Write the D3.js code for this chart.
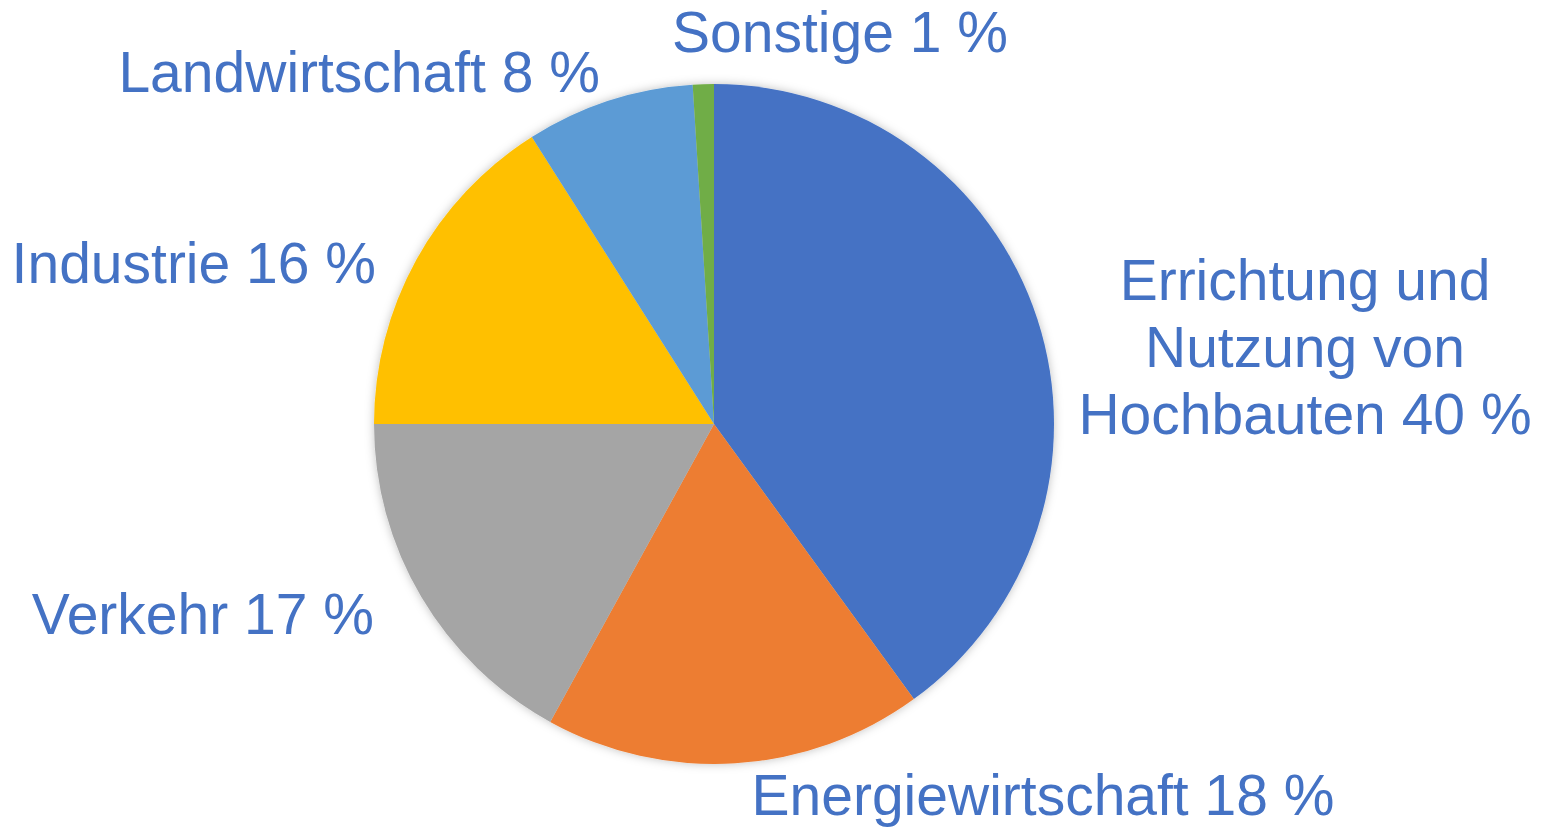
<!DOCTYPE html>
<html><head><meta charset="utf-8">
<script src="https://d3js.org/d3.v7.min.js"></script>
<style>html,body{margin:0;padding:0;background:#fff;overflow:hidden}</style>
</head><body>
<svg id="chart" width="1545" height="830"></svg>
<script>
const categories = ["Errichtung und Nutzung von Hochbauten", "Energiewirtschaft", "Verkehr", "Industrie", "Landwirtschaft", "Sonstige"];
const labelLines = [["Errichtung und", "Nutzung von", "Hochbauten 40 %"], ["Energiewirtschaft 18 %"], ["Verkehr 17 %"], ["Industrie 16 %"], ["Landwirtschaft 8 %"], ["Sonstige 1 %"]];
const values = [40, 18, 17, 16, 8, 1];
const colors = ["#4472C4", "#ED7D31", "#A5A5A5", "#FFC000", "#5B9BD5", "#70AD47"];

const svg = d3.select("#chart");
const cx = 714, cy = 424, R = 340;

const defs = svg.append("defs");
const f = defs.append("filter").attr("id", "sh").attr("x", "-10%").attr("y", "-10%").attr("width", "120%").attr("height", "120%");
f.append("feDropShadow").attr("dx", 0).attr("dy", 0).attr("stdDeviation", 5).attr("flood-color", "#000").attr("flood-opacity", 0.25);

const data = categories.map((c, i) => ({ cat: c, value: values[i], lines: labelLines[i], color: colors[i] }));
const pie = d3.pie().sort(null).value(d => d.value).startAngle(0).endAngle(2 * Math.PI);
const arc = d3.arc().innerRadius(0).outerRadius(R);
const arcs = pie(data);

const g = svg.append("g").attr("transform", `translate(${cx},${cy})`);
g.append("g").attr("filter", "url(#sh)")
  .selectAll("path").data(arcs).join("path")
  .attr("d", arc).attr("fill", d => d.data.color);

// label placement (layout, not data)
const layout = {
  "Errichtung und Nutzung von Hochbauten": { x: 1305, y: 300, anchor: "middle" },
  "Energiewirtschaft": { x: 1043, y: 815, anchor: "middle" },
  "Verkehr": { x: 374, y: 634, anchor: "end" },
  "Industrie": { x: 376, y: 283, anchor: "end" },
  "Landwirtschaft": { x: 600, y: 92, anchor: "end" },
  "Sonstige": { x: 840, y: 52, anchor: "middle" }
};
const lineH = 67;
const lab = svg.append("g")
  .attr("font-family", "'Liberation Sans', Arial, sans-serif")
  .attr("font-size", 57).attr("fill", "#4472C4");
arcs.forEach(a => {
  const p = layout[a.data.cat];
  const t = lab.append("text").attr("x", p.x).attr("y", p.y).attr("text-anchor", p.anchor);
  a.data.lines.forEach((ln, i) => {
    t.append("tspan").attr("x", p.x).attr("dy", i === 0 ? 0 : lineH).text(ln);
  });
});
</script>
</body></html>
